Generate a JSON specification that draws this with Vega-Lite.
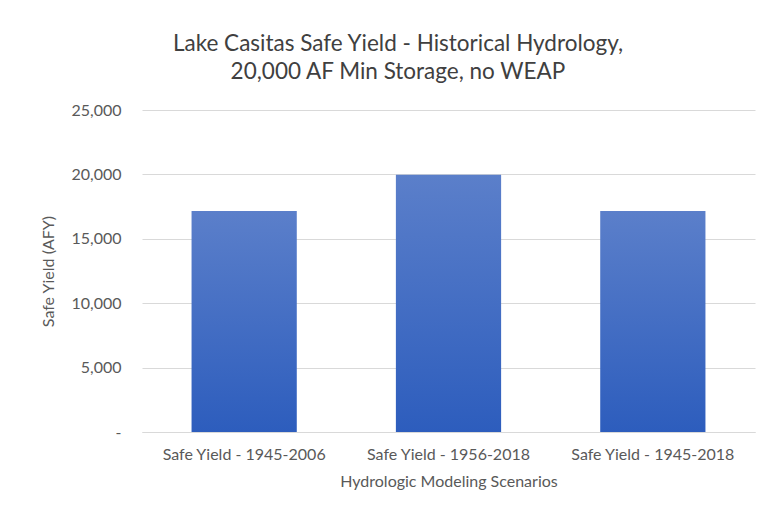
{
  "$schema": "https://vega.github.io/schema/vega-lite/v6.json",
  "width": 613,
  "height": 322,
  "autosize": "none",
  "padding": {"left": 142, "top": 110, "right": 22, "bottom": 82},
  "background": "white",
  "title": {
    "text": ["Lake Casitas Safe Yield - Historical Hydrology,", "20,000 AF Min Storage, no WEAP"],
    "font": "Lato",
    "fontSize": 22.5,
    "fontWeight": "normal",
    "color": "#404040",
    "lineHeight": 28,
    "anchor": "middle",
    "frame": "bounds",
    "offset": 19
  },
  "data": {
    "values": [
      {"scenario": "Safe Yield - 1945-2006", "yield": 17150},
      {"scenario": "Safe Yield - 1956-2018", "yield": 19980},
      {"scenario": "Safe Yield - 1945-2018", "yield": 17150}
    ]
  },
  "mark": {
    "type": "bar",
    "color": {
      "gradient": "linear",
      "x1": 0, "y1": 0, "x2": 0, "y2": 1,
      "stops": [
        {"offset": 0, "color": "#5b7fca"},
        {"offset": 1, "color": "#2d5dbd"}
      ]
    }
  },
  "encoding": {
    "x": {
      "field": "scenario",
      "type": "nominal",
      "sort": null,
      "scale": {"paddingInner": 0.485, "paddingOuter": 0.2425},
      "axis": {
        "title": "Hydrologic Modeling Scenarios",
        "labelAngle": 0,
        "labelFont": "Lato",
        "labelFontSize": 16,
        "labelColor": "#595959",
        "labelPadding": 14,
        "titleFont": "Lato",
        "titleFontSize": 16,
        "titleFontWeight": "normal",
        "titleColor": "#595959",
        "titlePadding": 11,
        "ticks": false,
        "domainColor": "#d9d9d9",
        "domainWidth": 1
      }
    },
    "y": {
      "field": "yield",
      "type": "quantitative",
      "scale": {"domain": [0, 25000]},
      "axis": {
        "title": "Safe Yield (AFY)",
        "values": [0, 5000, 10000, 15000, 20000, 25000],
        "labelExpr": "datum.value == 0 ? '-' : format(datum.value, ',')",
        "labelFont": "Lato",
        "labelFontSize": 16,
        "labelColor": "#595959",
        "labelPadding": 21,
        "titleFont": "Lato",
        "titleFontSize": 16,
        "titleFontWeight": "normal",
        "titleColor": "#595959",
        "titlePadding": 14,
        "ticks": false,
        "domain": false,
        "gridColor": "#d9d9d9",
        "gridWidth": 1
      }
    }
  },
  "config": {
    "view": {"stroke": null}
  }
}
